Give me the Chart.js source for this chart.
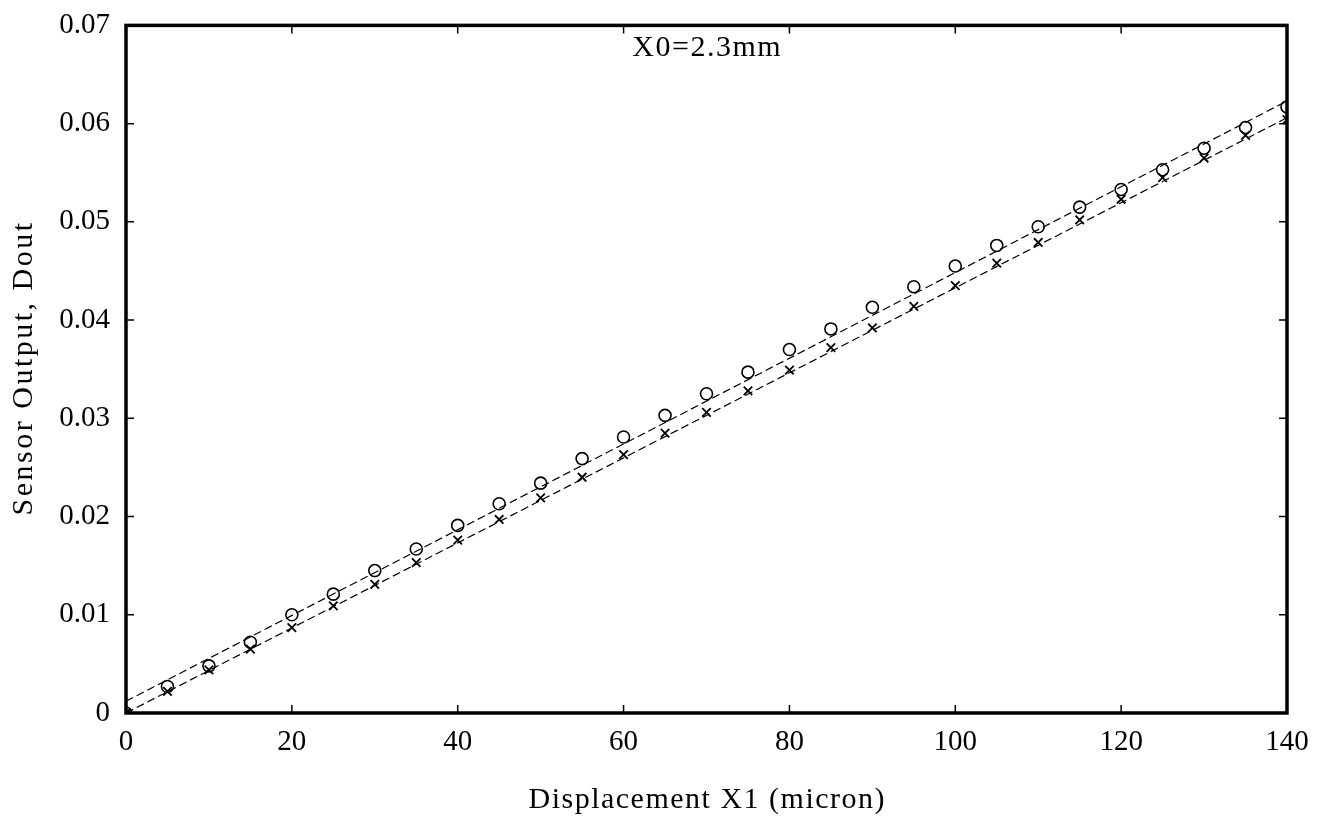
<!DOCTYPE html>
<html>
<head>
<meta charset="utf-8">
<script src="https://cdn.jsdelivr.net/npm/chart.js@4.4.1/dist/chart.umd.min.js"></script>
<style>
  html, body { margin: 0; padding: 0; background: #fff; }
  #wrap { width: 1321px; height: 821px; position: relative; }
</style>
</head>
<body>
<div id="wrap"><canvas id="grafico"></canvas></div>
<script>
// desplazamiento X1 en micrones
const desplazamiento = [0, 5, 10, 15, 20, 25, 30, 35, 40, 45, 50, 55, 60, 65, 70, 75, 80, 85, 90, 95, 100, 105, 110, 115, 120, 125, 130, 135, 140];

// salida medida (circulos)
const salidaCirculos = [0, 0.0027, 0.0048, 0.0072, 0.0100, 0.0121, 0.0145, 0.0167, 0.0191, 0.0213, 0.0234, 0.0259, 0.0281, 0.0303, 0.0325, 0.0347, 0.0370, 0.0391, 0.0413, 0.0434, 0.0455, 0.0476, 0.0495, 0.0515, 0.0533, 0.0553, 0.0575, 0.0596, 0.0617];

// salida medida (cruces)
const salidaCruces = [0, 0.0022, 0.0044, 0.0065, 0.0087, 0.0109, 0.0131, 0.0153, 0.0176, 0.0197, 0.0219, 0.0240, 0.0263, 0.0285, 0.0306, 0.0328, 0.0349, 0.0372, 0.0392, 0.0414, 0.0435, 0.0458, 0.0479, 0.0502, 0.0523, 0.0545, 0.0565, 0.0588, 0.0604];

// rectas de ajuste (extremos)
const ajusteX = [0, 140];
const ajusteCirculos = [0.0012, 0.0623];
const ajusteCruces = [0.0000, 0.0606];

const ticksX = [0, 20, 40, 60, 80, 100, 120, 140];
const ticksY = [0, 0.01, 0.02, 0.03, 0.04, 0.05, 0.06, 0.07];

const anotacion = { texto: "X0=2.3mm", x: 70, y: 0.0677 };
const tituloX = "Displacement X1 (micron)";
const tituloY = "Sensor Output, Dout";

const fuente = "'Liberation Serif', 'DejaVu Serif', serif";

function aPuntos(xs, ys) {
  return xs.map((x, i) => ({ x, y: ys[i] }));
}

function textoEspaciado(ctx, texto, x, y, espacio) {
  ctx.letterSpacing = `${espacio}px`;
  const ancho = ctx.measureText(texto).width - espacio;
  ctx.textAlign = "left";
  ctx.fillText(texto, x - ancho / 2, y);
  ctx.letterSpacing = "0px";
}

const marcoYTextos = {
  id: "marcoYTextos",
  afterDraw(chart) {
    const { ctx, chartArea: a, scales } = chart;
    const largo = 8;
    ctx.save();
    ctx.strokeStyle = "#000";
    ctx.lineWidth = 1.5;
    ctx.beginPath();
    ticksX.forEach((v) => {
      const px = scales.x.getPixelForValue(v);
      ctx.moveTo(px, a.bottom); ctx.lineTo(px, a.bottom - largo);
      ctx.moveTo(px, a.top); ctx.lineTo(px, a.top + largo);
    });
    ticksY.forEach((v) => {
      const py = scales.y.getPixelForValue(v);
      ctx.moveTo(a.left, py); ctx.lineTo(a.left + largo, py);
      ctx.moveTo(a.right, py); ctx.lineTo(a.right - largo, py);
    });
    ctx.stroke();
    ctx.lineWidth = 3.5;
    ctx.strokeRect(a.left, a.top, a.right - a.left, a.bottom - a.top);

    ctx.fillStyle = "#000";
    ctx.font = `30px ${fuente}`;
    ctx.textBaseline = "middle";
    textoEspaciado(ctx, anotacion.texto, scales.x.getPixelForValue(anotacion.x), scales.y.getPixelForValue(anotacion.y), 1.5);

    textoEspaciado(ctx, tituloX, (a.left + a.right) / 2, 800, 1.5);

    ctx.translate(24, (a.top + a.bottom) / 2);
    ctx.rotate(-Math.PI / 2);
    textoEspaciado(ctx, tituloY, 0, 0, 2.5);
    ctx.restore();
  },
};

new Chart(document.querySelector("#grafico"), {
  type: "scatter",
  data: {
    datasets: [
      { type: "line", data: aPuntos(ajusteX, ajusteCirculos), borderColor: "#000", borderWidth: 1.2, borderDash: [8, 4], pointRadius: 0, fill: false },
      { type: "line", data: aPuntos(ajusteX, ajusteCruces), borderColor: "#000", borderWidth: 1.2, borderDash: [8, 4], pointRadius: 0, fill: false },
      { data: aPuntos(desplazamiento, salidaCirculos), pointStyle: "circle", pointRadius: 6, borderColor: "#000", borderWidth: 1.6, backgroundColor: "rgba(0,0,0,0)" },
      { data: aPuntos(desplazamiento, salidaCruces), pointStyle: "crossRot", pointRadius: 6, borderColor: "#000", borderWidth: 1.8 },
    ],
  },
  options: {
    responsive: true,
    maintainAspectRatio: false,
    animation: false,
    layout: { padding: { top: 22, right: 34, left: 0, bottom: 0 } },
    plugins: { legend: { display: false }, tooltip: { enabled: false } },
    scales: {
      x: {
        type: "linear", min: 0, max: 140,
        afterBuildTicks: (escala) => { escala.ticks = ticksX.map((value) => ({ value })); },
        afterFit: (escala) => { escala.height = 108; },
        grid: { display: false },
        border: { display: false },
        ticks: { color: "#000", font: { family: fuente, size: 29 }, padding: 4, maxRotation: 0 },
      },
      y: {
        type: "linear", min: 0, max: 0.07,
        afterBuildTicks: (escala) => { escala.ticks = ticksY.map((value) => ({ value })); },
        afterFit: (escala) => { escala.width = 126; },
        grid: { display: false },
        border: { display: false },
        ticks: { color: "#000", font: { family: fuente, size: 29 }, padding: 8, callback: (v) => (v === 0 ? "0" : v.toFixed(2)) },
      },
    },
  },
  plugins: [marcoYTextos],
});
</script>
</body>
</html>
